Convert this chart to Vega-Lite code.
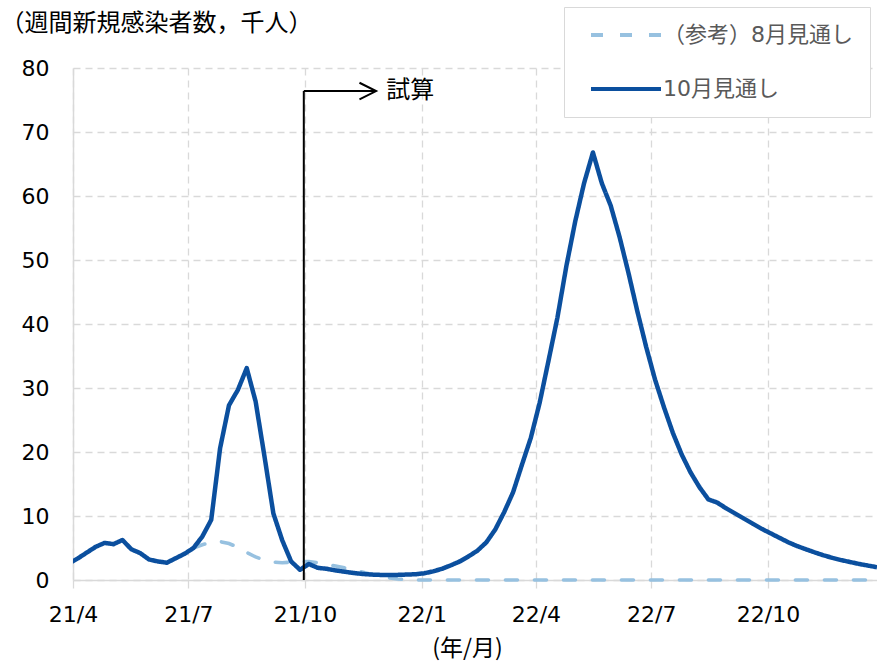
{
  "$schema": "https://vega.github.io/schema/vega-lite/v6.json",
  "width": 804,
  "height": 512,
  "autosize": {"type": "none"},
  "padding": {"left": 73, "top": 68, "right": 0, "bottom": 83},
  "background": "white",
  "config": {
    "view": {"stroke": null},
    "font": "DejaVu Sans, Noto Sans CJK JP",
    "legend": {
      "orient": "none",
      "legendX": 491,
      "legendY": -61,
      "padding": 17,
      "symbolOffset": 34,
      "labelOffset": 26,
      "rowPadding": 32,
      "strokeColor": "#d9d9d9",
      "fillColor": "white",
      "symbolType": "M-5,0L5,0",
      "symbolSize": 196,
      "symbolStrokeWidth": 4,
      "labelFontSize": 22,
      "labelColor": "#595959",
      "labelLimit": 400,
      "labelFont": "DejaVu Sans, Noto Sans CJK JP"
    }
  },
  "datasets": {
    "weekly": [
      {"series": "10月見通し", "week": "2021-03-29", "value": 2.6},
      {"series": "10月見通し", "week": "2021-04-05", "value": 3.4},
      {"series": "10月見通し", "week": "2021-04-12", "value": 4.3},
      {"series": "10月見通し", "week": "2021-04-19", "value": 5.2},
      {"series": "10月見通し", "week": "2021-04-26", "value": 5.8},
      {"series": "10月見通し", "week": "2021-05-03", "value": 5.6},
      {"series": "10月見通し", "week": "2021-05-10", "value": 6.25},
      {"series": "10月見通し", "week": "2021-05-17", "value": 4.8},
      {"series": "10月見通し", "week": "2021-05-24", "value": 4.2},
      {"series": "10月見通し", "week": "2021-05-31", "value": 3.2},
      {"series": "10月見通し", "week": "2021-06-07", "value": 2.9},
      {"series": "10月見通し", "week": "2021-06-14", "value": 2.7},
      {"series": "10月見通し", "week": "2021-06-21", "value": 3.4},
      {"series": "10月見通し", "week": "2021-06-28", "value": 4.1},
      {"series": "10月見通し", "week": "2021-07-05", "value": 5.0},
      {"series": "10月見通し", "week": "2021-07-12", "value": 6.8},
      {"series": "10月見通し", "week": "2021-07-19", "value": 9.4},
      {"series": "10月見通し", "week": "2021-07-26", "value": 20.6},
      {"series": "10月見通し", "week": "2021-08-02", "value": 27.3},
      {"series": "10月見通し", "week": "2021-08-09", "value": 29.7},
      {"series": "10月見通し", "week": "2021-08-16", "value": 33.1},
      {"series": "10月見通し", "week": "2021-08-23", "value": 27.9},
      {"series": "10月見通し", "week": "2021-08-30", "value": 19.3},
      {"series": "10月見通し", "week": "2021-09-06", "value": 10.4},
      {"series": "10月見通し", "week": "2021-09-13", "value": 6.2},
      {"series": "10月見通し", "week": "2021-09-20", "value": 2.9},
      {"series": "10月見通し", "week": "2021-09-27", "value": 1.6},
      {"series": "10月見通し", "week": "2021-10-04", "value": 2.5},
      {"series": "10月見通し", "week": "2021-10-11", "value": 1.9},
      {"series": "10月見通し", "week": "2021-10-18", "value": 1.75},
      {"series": "10月見通し", "week": "2021-10-25", "value": 1.5},
      {"series": "10月見通し", "week": "2021-11-01", "value": 1.3},
      {"series": "10月見通し", "week": "2021-11-08", "value": 1.1},
      {"series": "10月見通し", "week": "2021-11-15", "value": 0.95},
      {"series": "10月見通し", "week": "2021-11-22", "value": 0.85},
      {"series": "10月見通し", "week": "2021-11-29", "value": 0.8},
      {"series": "10月見通し", "week": "2021-12-06", "value": 0.8},
      {"series": "10月見通し", "week": "2021-12-13", "value": 0.8},
      {"series": "10月見通し", "week": "2021-12-20", "value": 0.85},
      {"series": "10月見通し", "week": "2021-12-27", "value": 0.9},
      {"series": "10月見通し", "week": "2022-01-03", "value": 1.05},
      {"series": "10月見通し", "week": "2022-01-10", "value": 1.35},
      {"series": "10月見通し", "week": "2022-01-17", "value": 1.75},
      {"series": "10月見通し", "week": "2022-01-24", "value": 2.3},
      {"series": "10月見通し", "week": "2022-01-31", "value": 2.9},
      {"series": "10月見通し", "week": "2022-02-07", "value": 3.7},
      {"series": "10月見通し", "week": "2022-02-14", "value": 4.6},
      {"series": "10月見通し", "week": "2022-02-21", "value": 5.9},
      {"series": "10月見通し", "week": "2022-02-28", "value": 7.9},
      {"series": "10月見通し", "week": "2022-03-07", "value": 10.6},
      {"series": "10月見通し", "week": "2022-03-14", "value": 13.7},
      {"series": "10月見通し", "week": "2022-03-21", "value": 18.0},
      {"series": "10月見通し", "week": "2022-03-28", "value": 22.2},
      {"series": "10月見通し", "week": "2022-04-04", "value": 27.7},
      {"series": "10月見通し", "week": "2022-04-11", "value": 34.3},
      {"series": "10月見通し", "week": "2022-04-18", "value": 41.0},
      {"series": "10月見通し", "week": "2022-04-25", "value": 49.0},
      {"series": "10月見通し", "week": "2022-05-02", "value": 56.0},
      {"series": "10月見通し", "week": "2022-05-09", "value": 62.0},
      {"series": "10月見通し", "week": "2022-05-16", "value": 66.8},
      {"series": "10月見通し", "week": "2022-05-23", "value": 62.0},
      {"series": "10月見通し", "week": "2022-05-30", "value": 58.5},
      {"series": "10月見通し", "week": "2022-06-06", "value": 53.6},
      {"series": "10月見通し", "week": "2022-06-13", "value": 48.0},
      {"series": "10月見通し", "week": "2022-06-20", "value": 42.0},
      {"series": "10月見通し", "week": "2022-06-27", "value": 36.4},
      {"series": "10月見通し", "week": "2022-07-04", "value": 31.3},
      {"series": "10月見通し", "week": "2022-07-11", "value": 27.0},
      {"series": "10月見通し", "week": "2022-07-18", "value": 23.0},
      {"series": "10月見通し", "week": "2022-07-25", "value": 19.6},
      {"series": "10月見通し", "week": "2022-08-01", "value": 16.8},
      {"series": "10月見通し", "week": "2022-08-08", "value": 14.5},
      {"series": "10月見通し", "week": "2022-08-15", "value": 12.6},
      {"series": "10月見通し", "week": "2022-08-22", "value": 12.1},
      {"series": "10月見通し", "week": "2022-08-29", "value": 11.2},
      {"series": "10月見通し", "week": "2022-09-05", "value": 10.4},
      {"series": "10月見通し", "week": "2022-09-12", "value": 9.6},
      {"series": "10月見通し", "week": "2022-09-19", "value": 8.8},
      {"series": "10月見通し", "week": "2022-09-26", "value": 8.0},
      {"series": "10月見通し", "week": "2022-10-03", "value": 7.3},
      {"series": "10月見通し", "week": "2022-10-10", "value": 6.6},
      {"series": "10月見通し", "week": "2022-10-17", "value": 5.9},
      {"series": "10月見通し", "week": "2022-10-24", "value": 5.3},
      {"series": "10月見通し", "week": "2022-10-31", "value": 4.8},
      {"series": "10月見通し", "week": "2022-11-07", "value": 4.3},
      {"series": "10月見通し", "week": "2022-11-14", "value": 3.85},
      {"series": "10月見通し", "week": "2022-11-21", "value": 3.45},
      {"series": "10月見通し", "week": "2022-11-28", "value": 3.1},
      {"series": "10月見通し", "week": "2022-12-05", "value": 2.8},
      {"series": "10月見通し", "week": "2022-12-12", "value": 2.5},
      {"series": "10月見通し", "week": "2022-12-19", "value": 2.25},
      {"series": "10月見通し", "week": "2022-12-26", "value": 2.0},
      {"series": "（参考）8月見通し", "week": "2021-07-05", "value": 5.0},
      {"series": "（参考）8月見通し", "week": "2021-07-12", "value": 5.5},
      {"series": "（参考）8月見通し", "week": "2021-07-19", "value": 5.9},
      {"series": "（参考）8月見通し", "week": "2021-07-26", "value": 6.0},
      {"series": "（参考）8月見通し", "week": "2021-08-02", "value": 5.7},
      {"series": "（参考）8月見通し", "week": "2021-08-09", "value": 5.1},
      {"series": "（参考）8月見通し", "week": "2021-08-16", "value": 4.3},
      {"series": "（参考）8月見通し", "week": "2021-08-23", "value": 3.6},
      {"series": "（参考）8月見通し", "week": "2021-08-30", "value": 3.1},
      {"series": "（参考）8月見通し", "week": "2021-09-06", "value": 2.8},
      {"series": "（参考）8月見通し", "week": "2021-09-13", "value": 2.7},
      {"series": "（参考）8月見通し", "week": "2021-09-20", "value": 2.8},
      {"series": "（参考）8月見通し", "week": "2021-09-27", "value": 2.9},
      {"series": "（参考）8月見通し", "week": "2021-10-04", "value": 2.9},
      {"series": "（参考）8月見通し", "week": "2021-10-11", "value": 2.7},
      {"series": "（参考）8月見通し", "week": "2021-10-18", "value": 2.45},
      {"series": "（参考）8月見通し", "week": "2021-10-25", "value": 2.2},
      {"series": "（参考）8月見通し", "week": "2021-11-01", "value": 1.9},
      {"series": "（参考）8月見通し", "week": "2021-11-08", "value": 1.6},
      {"series": "（参考）8月見通し", "week": "2021-11-15", "value": 1.25},
      {"series": "（参考）8月見通し", "week": "2021-11-22", "value": 0.9},
      {"series": "（参考）8月見通し", "week": "2021-11-29", "value": 0.6},
      {"series": "（参考）8月見通し", "week": "2021-12-06", "value": 0.35},
      {"series": "（参考）8月見通し", "week": "2021-12-13", "value": 0.15},
      {"series": "（参考）8月見通し", "week": "2021-12-20", "value": 0.05},
      {"series": "（参考）8月見通し", "week": "2021-12-27", "value": 0},
      {"series": "（参考）8月見通し", "week": "2022-01-03", "value": 0},
      {"series": "（参考）8月見通し", "week": "2022-01-10", "value": 0},
      {"series": "（参考）8月見通し", "week": "2022-01-17", "value": 0},
      {"series": "（参考）8月見通し", "week": "2022-01-24", "value": 0},
      {"series": "（参考）8月見通し", "week": "2022-01-31", "value": 0},
      {"series": "（参考）8月見通し", "week": "2022-02-07", "value": 0},
      {"series": "（参考）8月見通し", "week": "2022-02-14", "value": 0},
      {"series": "（参考）8月見通し", "week": "2022-02-21", "value": 0},
      {"series": "（参考）8月見通し", "week": "2022-02-28", "value": 0},
      {"series": "（参考）8月見通し", "week": "2022-03-07", "value": 0},
      {"series": "（参考）8月見通し", "week": "2022-03-14", "value": 0},
      {"series": "（参考）8月見通し", "week": "2022-03-21", "value": 0},
      {"series": "（参考）8月見通し", "week": "2022-03-28", "value": 0},
      {"series": "（参考）8月見通し", "week": "2022-04-04", "value": 0},
      {"series": "（参考）8月見通し", "week": "2022-04-11", "value": 0},
      {"series": "（参考）8月見通し", "week": "2022-04-18", "value": 0},
      {"series": "（参考）8月見通し", "week": "2022-04-25", "value": 0},
      {"series": "（参考）8月見通し", "week": "2022-05-02", "value": 0},
      {"series": "（参考）8月見通し", "week": "2022-05-09", "value": 0},
      {"series": "（参考）8月見通し", "week": "2022-05-16", "value": 0},
      {"series": "（参考）8月見通し", "week": "2022-05-23", "value": 0},
      {"series": "（参考）8月見通し", "week": "2022-05-30", "value": 0},
      {"series": "（参考）8月見通し", "week": "2022-06-06", "value": 0},
      {"series": "（参考）8月見通し", "week": "2022-06-13", "value": 0},
      {"series": "（参考）8月見通し", "week": "2022-06-20", "value": 0},
      {"series": "（参考）8月見通し", "week": "2022-06-27", "value": 0},
      {"series": "（参考）8月見通し", "week": "2022-07-04", "value": 0},
      {"series": "（参考）8月見通し", "week": "2022-07-11", "value": 0},
      {"series": "（参考）8月見通し", "week": "2022-07-18", "value": 0},
      {"series": "（参考）8月見通し", "week": "2022-07-25", "value": 0},
      {"series": "（参考）8月見通し", "week": "2022-08-01", "value": 0},
      {"series": "（参考）8月見通し", "week": "2022-08-08", "value": 0},
      {"series": "（参考）8月見通し", "week": "2022-08-15", "value": 0},
      {"series": "（参考）8月見通し", "week": "2022-08-22", "value": 0},
      {"series": "（参考）8月見通し", "week": "2022-08-29", "value": 0},
      {"series": "（参考）8月見通し", "week": "2022-09-05", "value": 0},
      {"series": "（参考）8月見通し", "week": "2022-09-12", "value": 0},
      {"series": "（参考）8月見通し", "week": "2022-09-19", "value": 0},
      {"series": "（参考）8月見通し", "week": "2022-09-26", "value": 0},
      {"series": "（参考）8月見通し", "week": "2022-10-03", "value": 0},
      {"series": "（参考）8月見通し", "week": "2022-10-10", "value": 0},
      {"series": "（参考）8月見通し", "week": "2022-10-17", "value": 0},
      {"series": "（参考）8月見通し", "week": "2022-10-24", "value": 0},
      {"series": "（参考）8月見通し", "week": "2022-10-31", "value": 0},
      {"series": "（参考）8月見通し", "week": "2022-11-07", "value": 0},
      {"series": "（参考）8月見通し", "week": "2022-11-14", "value": 0},
      {"series": "（参考）8月見通し", "week": "2022-11-21", "value": 0},
      {"series": "（参考）8月見通し", "week": "2022-11-28", "value": 0},
      {"series": "（参考）8月見通し", "week": "2022-12-05", "value": 0},
      {"series": "（参考）8月見通し", "week": "2022-12-12", "value": 0},
      {"series": "（参考）8月見通し", "week": "2022-12-19", "value": 0},
      {"series": "（参考）8月見通し", "week": "2022-12-26", "value": 0}
    ],
    "forecastStart": [
      {"start": "2021-09-30", "arrowEnd": "2021-11-26", "labelAt": "2021-12-04", "base": 0, "level": 76.4, "label": "試算"}
    ]
  },
  "layer": [
    {
      "data": {"name": "weekly"},
      "transform": [{"filter": "datum.series === '（参考）8月見通し'"}],
      "mark": {"type": "line", "strokeWidth": 3.6, "strokeCap": "round"},
      "encoding": {
        "x": {
          "field": "week",
          "type": "temporal",
          "scale": {
            "type": "utc",
            "domain": ["2021-04-01", "2022-12-26"]
          },
          "axis": {
            "values": ["2021-04-01", "2021-07-01", "2021-10-01", "2022-01-01", "2022-04-01", "2022-07-01", "2022-10-01"],
            "labelExpr": "utcFormat(datum.value, '%y') + '/' + (utcmonth(datum.value) + 1)",
            "labelFontSize": 22,
            "labelColor": "#000000",
            "labelPadding": 16,
            "labelFlush": false,
            "labelOverlap": false,
            "tickSize": 8,
            "tickColor": "#d9d9d9",
            "tickWidth": 1.3,
            "domainColor": "#d9d9d9",
            "domainWidth": 1.5,
            "grid": true,
            "gridColor": "#d9d9d9",
            "gridDash": [7, 5],
            "gridWidth": 1.3,
            "title": "(年/月)",
            "titleFont": "Noto Sans CJK JP",
            "titleFontSize": 23,
            "titleFontWeight": "normal",
            "titleColor": "#000000",
            "titleX": 394,
            "titleY": 68,
            "titleAlign": "center",
            "titleBaseline": "middle"
          }
        },
        "y": {
          "field": "value",
          "type": "quantitative",
          "scale": {"domain": [0, 80], "nice": false},
          "axis": {
            "values": [0, 10, 20, 30, 40, 50, 60, 70, 80],
            "labelFontSize": 22,
            "labelColor": "#000000",
            "labelPadding": 24,
            "ticks": false,
            "domainColor": "#d9d9d9",
            "domainWidth": 1.5,
            "grid": true,
            "gridColor": "#d9d9d9",
            "gridDash": [7, 5],
            "gridWidth": 1.3,
            "title": "（週間新規感染者数，千人）",
            "titleFont": "Noto Sans CJK JP",
            "titleFontSize": 24,
            "titleFontWeight": "normal",
            "titleColor": "#000000",
            "titleAngle": 0,
            "titleAlign": "left",
            "titleBaseline": "middle",
            "titleX": -73,
            "titleY": -45
          }
        },
        "color": {
          "field": "series",
          "type": "nominal",
          "scale": {
            "domain": ["（参考）8月見通し", "10月見通し"],
            "range": ["#97c1e0", "#0b4f9e"]
          },
          "legend": {"title": null}
        },
        "strokeDash": {
          "field": "series",
          "type": "nominal",
          "scale": {
            "domain": ["（参考）8月見通し", "10月見通し"],
            "range": [[12, 17], [1, 0]]
          },
          "legend": {"title": null}
        }
      }
    },
    {
      "data": {"name": "weekly"},
      "transform": [{"filter": "datum.series === '10月見通し'"}],
      "mark": {"type": "line", "strokeWidth": 4.5, "strokeJoin": "round", "clip": true},
      "encoding": {
        "x": {"field": "week", "type": "temporal"},
        "y": {"field": "value", "type": "quantitative"},
        "color": {"field": "series", "type": "nominal"},
        "strokeDash": {"field": "series", "type": "nominal"}
      }
    },
    {
      "data": {"name": "forecastStart"},
      "mark": {"type": "rule", "color": "#000000", "strokeWidth": 2},
      "encoding": {
        "x": {"field": "start", "type": "temporal"},
        "y": {"field": "base", "type": "quantitative"},
        "y2": {"field": "level"}
      }
    },
    {
      "data": {"name": "forecastStart"},
      "mark": {"type": "rule", "color": "#000000", "strokeWidth": 2},
      "encoding": {
        "x": {"field": "start", "type": "temporal"},
        "x2": {"field": "arrowEnd"},
        "y": {"field": "level", "type": "quantitative"}
      }
    },
    {
      "data": {"name": "forecastStart"},
      "mark": {
        "type": "point",
        "shape": "M-2,-1L0,0L-2,1",
        "filled": false,
        "stroke": "#000000",
        "strokeWidth": 2,
        "size": 276,
        "opacity": 1
      },
      "encoding": {
        "x": {"field": "arrowEnd", "type": "temporal"},
        "y": {"field": "level", "type": "quantitative"}
      }
    },
    {
      "data": {"name": "forecastStart"},
      "mark": {
        "type": "text",
        "align": "left",
        "baseline": "middle",
        "font": "Noto Sans CJK JP",
        "fontSize": 24,
        "color": "#000000"
      },
      "encoding": {
        "x": {"field": "labelAt", "type": "temporal"},
        "y": {"field": "level", "type": "quantitative"},
        "text": {"field": "label", "type": "nominal"}
      }
    }
  ]
}
